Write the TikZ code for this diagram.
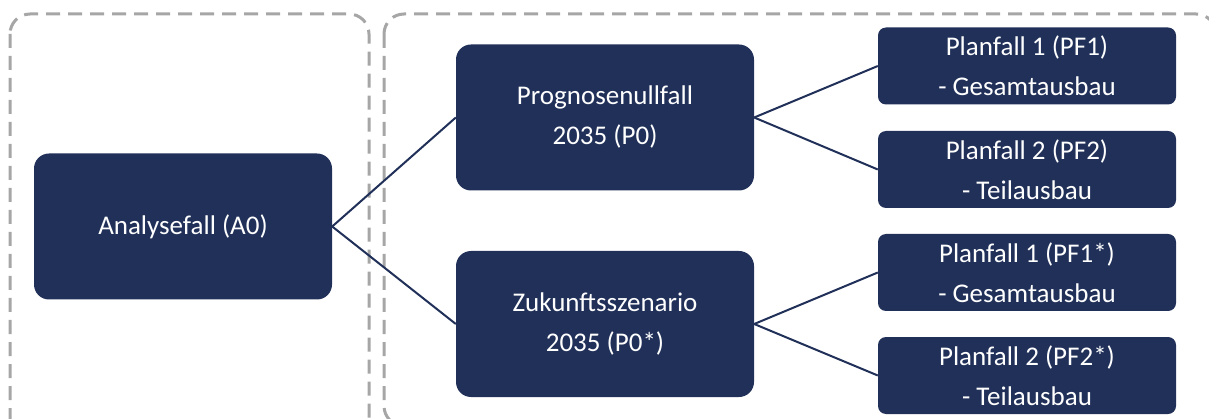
\documentclass[tikz,border=0pt]{standalone}
\usepackage{fontspec}
\setmainfont{Carlito}
\definecolor{navy}{RGB}{32,48,88}
\definecolor{dashgray}{RGB}{166,166,166}
\begin{document}
\begin{tikzpicture}[x=1pt,y=-1pt,
  groupbox/.style={draw=dashgray, line width=3pt, dash pattern=on 14pt off 8pt, rounded corners=20pt},
  bigbox/.style={rectangle, fill=navy, text=white, rounded corners=15pt, minimum width=298pt, minimum height=146pt, align=center, inner sep=0pt, font=\fontsize{27}{40}\selectfont},
  smallbox/.style={rectangle, fill=navy, text=white, rounded corners=8pt, minimum width=298pt, minimum height=77pt, align=center, inner sep=0pt, font=\fontsize{27}{40}\selectfont},
  conn/.style={draw=navy, line width=2pt}]
\useasboundingbox (0,0) rectangle (1209,419);
\clip (0,0) rectangle (1209,419);
\draw[groupbox] (10,14) rectangle (369,440);
\draw[groupbox] (384,14) rectangle (1216,426);
\node[bigbox] (A0) at (183,226.5) {Analysefall (A0)};
\node[bigbox] (P0) at (605,117.5) {Prognosenullfall\\2035 (P0)};
\node[bigbox] (P0s) at (605,324) {Zukunftsszenario\\2035 (P0*)};
\node[smallbox] (PF1) at (1027,66) {Planfall 1 (PF1)\\- Gesamtausbau};
\node[smallbox] (PF2) at (1027,169.5) {Planfall 2 (PF2)\\- Teilausbau};
\node[smallbox] (PF1s) at (1027,272.5) {Planfall 1 (PF1*)\\- Gesamtausbau};
\node[smallbox] (PF2s) at (1027,375.5) {Planfall 2 (PF2*)\\- Teilausbau};
\draw[conn] (A0.east) -- (P0.west);
\draw[conn] (A0.east) -- (P0s.west);
\draw[conn] (P0.east) -- (PF1.west);
\draw[conn] (P0.east) -- (PF2.west);
\draw[conn] (P0s.east) -- (PF1s.west);
\draw[conn] (P0s.east) -- (PF2s.west);
\end{tikzpicture}
\end{document}
